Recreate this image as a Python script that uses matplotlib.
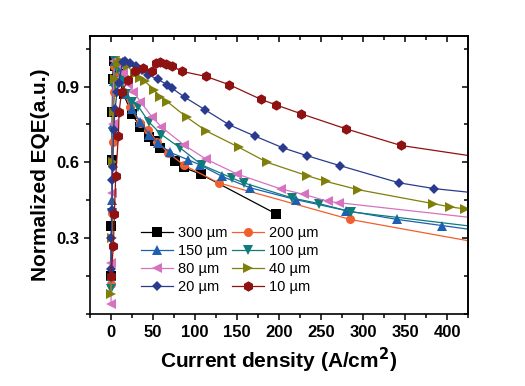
import matplotlib
matplotlib.use("Agg")
import matplotlib.pyplot as plt
from matplotlib.ticker import MultipleLocator

plt.rcParams['font.family'] = ['Liberation Sans', 'DejaVu Sans']

labels = ["300 \u00b5m", "200 \u00b5m", "150 \u00b5m", "100 \u00b5m",
          "80 \u00b5m", "40 \u00b5m", "20 \u00b5m", "10 \u00b5m"]
colors = ["#000000", "#F0602E", "#1D60B2", "#0F7C7A",
          "#D672BF", "#7F7F0A", "#2A3A8F", "#8E1212"]
markers = ["s", "o", "^", "v", "<", ">", "D", "h"]

x300 = [0, 0.5, 1, 1.5, 2, 3, 5, 8, 15, 25, 35, 45, 52.5, 58.5, 75.6, 86.4, 107, 196]
y300 = [0.15, 0.35, 0.61, 0.80, 0.93, 1.0, 0.98, 0.95, 0.87, 0.79, 0.74, 0.70, 0.683, 0.657, 0.604, 0.58, 0.553, 0.397]

x200 = [0, 1, 2, 3, 4, 6, 10, 15, 22.7, 34.6, 44.6, 55, 68.4, 86.4, 128, 285, 450]
y200 = [0.12, 0.40, 0.68, 0.88, 0.98, 1.0, 0.95, 0.88, 0.82, 0.755, 0.729, 0.68, 0.637, 0.59, 0.519, 0.374, 0.275]

x150 = [0, 1, 2, 3, 5, 8, 12, 18, 25, 35, 45, 56.5, 70, 92, 106, 132, 165, 219.7, 280, 341, 394, 460]
y150 = [0.15, 0.45, 0.75, 0.92, 1.0, 0.98, 0.93, 0.87, 0.81, 0.76, 0.71, 0.676, 0.64, 0.61, 0.59, 0.545, 0.50, 0.453, 0.409, 0.374, 0.35, 0.32]

x100 = [0, 1, 2, 3, 5, 8, 12, 18, 25, 32.6, 45, 60, 82.4, 108, 144, 158, 215.8, 247.6, 286, 460]
y100 = [0.10, 0.40, 0.72, 0.90, 1.0, 0.97, 0.92, 0.87, 0.84, 0.821, 0.76, 0.71, 0.657, 0.59, 0.538, 0.519, 0.459, 0.437, 0.404, 0.335]

x80 = [0, 0.5, 1, 2, 3, 4, 8, 14.7, 20, 26.7, 35, 48.6, 60, 86.4, 113, 150, 202, 230, 258, 272, 460]
y80 = [0.04, 0.20, 0.48, 0.75, 0.92, 1.0, 0.99, 0.953, 0.91, 0.88, 0.84, 0.781, 0.74, 0.67, 0.613, 0.554, 0.495, 0.473, 0.446, 0.44, 0.37]

x40 = [0, 1, 2, 3, 5, 8, 12, 20, 28, 34.6, 40.6, 51.3, 58.5, 67, 90, 113, 152, 186, 233.6, 255.5, 294, 383, 403, 421]
y40 = [0.08, 0.30, 0.60, 0.80, 0.93, 0.99, 1.0, 0.98, 0.95, 0.933, 0.92, 0.887, 0.86, 0.84, 0.779, 0.725, 0.66, 0.60, 0.547, 0.525, 0.492, 0.437, 0.424, 0.416]

x20 = [0, 0.5, 1, 1.5, 2, 3, 5, 7, 9, 14, 17, 22.7, 30, 37, 44.6, 55.7, 67, 72.4, 87.6, 112, 141, 172, 205, 233.6, 272.6, 343, 385, 460]
y20 = [0.18, 0.30, 0.41, 0.53, 0.58, 0.73, 0.81, 0.88, 0.913, 0.999, 1.0, 0.992, 0.98, 0.965, 0.946, 0.929, 0.907, 0.894, 0.858, 0.808, 0.748, 0.703, 0.657, 0.626, 0.587, 0.519, 0.496, 0.47]

x10 = [0, 2.8, 4, 5.6, 8.8, 9.6, 12.7, 20.7, 28.6, 38.6, 48.6, 53.7, 58.5, 65.7, 72.4, 84.4, 113, 141, 178, 196, 226.5, 279.4, 345, 460]
y10 = [0.15, 0.268, 0.394, 0.545, 0.705, 0.80, 0.88, 0.926, 0.96, 0.973, 0.96, 0.995, 0.999, 0.988, 0.982, 0.96, 0.94, 0.907, 0.85, 0.828, 0.792, 0.733, 0.667, 0.61]

xs = [x300, x200, x150, x100, x80, x40, x20, x10]
ys = [y300, y200, y150, y100, y80, y40, y20, y10]

fig = plt.figure(figsize=(5.25, 3.86), dpi=100)
ax = fig.add_axes([90/525, 1-314/386, (468-90)/525, (314-36)/386])

handles = []
for x, y, lab, c, m in zip(xs, ys, labels, colors, markers):
    ms = 6.5
    if m == "D":
        ms = 5.5
    if m == "h":
        ms = 7.5
    h, = ax.plot(x, y, color=c, marker=m, markersize=ms, linewidth=0.9,
                 label=lab, markeredgewidth=0)
    handles.append(h)

ax.set_xlim(-25, 425)
ax.set_ylim(0.0, 1.1)
ax.xaxis.set_major_locator(MultipleLocator(50))
ax.xaxis.set_minor_locator(MultipleLocator(25))
ax.yaxis.set_minor_locator(MultipleLocator(0.15))
ax.set_yticks([0.3, 0.6, 0.9])

for s in ax.spines.values():
    s.set_linewidth(1.2)

ax.tick_params(which='both', direction='out', width=1.1, labelsize=12)
ax.tick_params(which='major', length=4.5)
ax.tick_params(which='minor', length=3)
for lbl in ax.get_xticklabels() + ax.get_yticklabels():
    lbl.set_fontweight('bold')

top = ax.secondary_xaxis('top')
top.xaxis.set_major_locator(MultipleLocator(50))
top.xaxis.set_minor_locator(MultipleLocator(25))
top.tick_params(which='both', direction='in', width=1.1, labeltop=False)
top.tick_params(which='major', length=4.5)
top.tick_params(which='minor', length=3)
top.spines['top'].set_linewidth(1.2)

right = ax.secondary_yaxis('right')
right.yaxis.set_minor_locator(MultipleLocator(0.15))
right.set_yticks([0.3, 0.6, 0.9])
right.tick_params(which='both', direction='in', width=1.1, labelright=False)
right.tick_params(which='major', length=4.5)
right.tick_params(which='minor', length=3)
right.spines['right'].set_linewidth(1.2)

ax.set_xlabel("Current density (A/cm$^\\mathbf{2}$)", fontsize=15, fontweight='bold', labelpad=4)
ax.set_ylabel("Normalized EQE(a.u.)", fontsize=15, fontweight='bold', labelpad=4)

# row-wise legend order: column 1 = 300,150,80,20 ; column 2 = 200,100,40,10
order = [0, 2, 4, 6, 1, 3, 5, 7]
leg = ax.legend([handles[i] for i in order], [labels[i] for i in order],
                ncol=2, loc='upper left', bbox_to_anchor=(141/525, 1-226/386),
                bbox_transform=fig.transFigure, frameon=False, fontsize=10.5,
                handlelength=2.2, handletextpad=0.35, columnspacing=0.3,
                labelspacing=0.28, borderpad=0, borderaxespad=0)

fig.savefig("out.png", dpi=100)
